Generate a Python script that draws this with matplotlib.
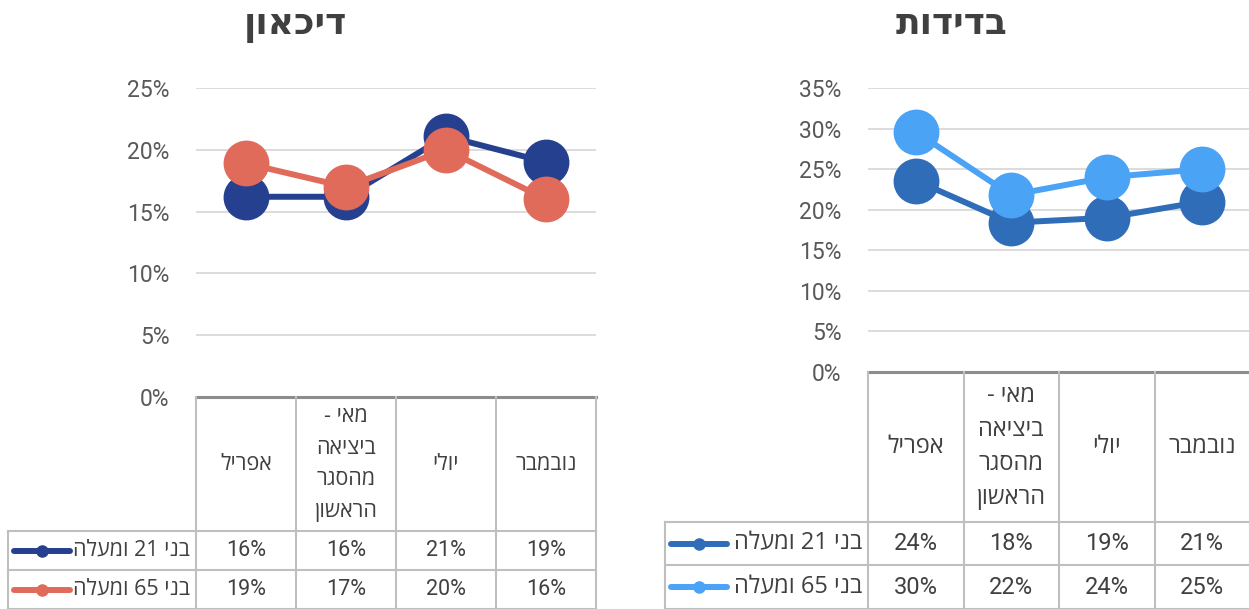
import matplotlib
matplotlib.use("Agg")
import matplotlib.pyplot as plt

W, H = 1249, 609

# ---------------- data ----------------
categories = ["אפריל", "מאי -\nביציאה\nמהסגר\nהראשון", "יולי", "נובמבר"]
series_names = ["בני 21 ומעלה", "בני 65 ומעלה"]
titles = ["דיכאון", "בדידות"]

depression_21 = [0.162, 0.162, 0.211, 0.190]
depression_65 = [0.189, 0.170, 0.200, 0.160]
loneliness_21 = [0.236, 0.184, 0.190, 0.210]
loneliness_65 = [0.296, 0.218, 0.240, 0.250]

dep_ticks = [0, 0.05, 0.10, 0.15, 0.20, 0.25]
lon_ticks = [0, 0.05, 0.10, 0.15, 0.20, 0.25, 0.30, 0.35]

plt.rcParams["font.family"] = ["Roboto", "Open Sans", "DejaVu Sans"]
TFONT = ["Open Sans", "DejaVu Sans"]

TXT = "#404040"
TICK = "#595959"
GRID = "#d9d9d9"
TBL = "#bfbfbf"


def vis(s):
    """Convert logical-order Hebrew to visual (LTR) order for rendering."""
    out = []
    for ln in s.split("\n"):
        words = ln.split(" ")
        rw = [w if any(c.isdigit() for c in w) else w[::-1] for w in words[::-1]]
        out.append(" ".join(rw))
    return "\n".join(out)


fig = plt.figure(figsize=(W / 100, H / 100), dpi=100)


def panel(lay, s1, s2, c1, c2, ticks, title):
    x0, x1, top, bot = lay["x0"], lay["x1"], lay["top"], lay["bot"]
    lx0, hb, r2 = lay["lx0"], lay["hb"], lay["r2"]
    fs, ls = lay["fs"], lay["ls"]
    ax = fig.add_axes([x0 / W, 1 - bot / H, (x1 - x0) / W, (bot - top) / H])
    xs = list(range(len(categories)))
    ax.set_xlim(-0.5, len(categories) - 0.5)
    ax.set_ylim(0, ticks[-1])
    for sp in ax.spines.values():
        sp.set_visible(False)
    ax.set_yticks(ticks)
    ax.set_yticklabels([f"{int(round(t*100))}%" for t in ticks])
    ax.tick_params(axis="y", length=0, pad=19, labelsize=16.5, labelcolor=TICK)
    ax.set_xticks([])
    for t in ticks[1:]:
        ax.axhline(t, color=GRID, lw=1.3, zorder=1)
    ax.axhline(0, color="#8c8c8c", lw=2.2, zorder=1, clip_on=False)
    ax.plot(xs, s1, color=c1, lw=4.3, marker="o", ms=32, zorder=3, clip_on=False)
    ax.plot(xs, s2, color=c2, lw=4.3, marker="o", ms=32, zorder=4, clip_on=False)

    # table axes (x in category units, y in pixels from top)
    ppu = (x1 - x0) / len(categories)
    xl = -0.5 - (x0 - lx0) / ppu
    tx = fig.add_axes([lx0 / W, 0, (x1 - lx0) / W, (H - bot) / H])
    tx.set_xlim(xl, len(categories) - 0.5)
    tx.set_ylim(H, bot)
    tx.axis("off")
    n = len(categories)
    for i in range(n + 1):
        tx.plot([i - 0.5, i - 0.5], [bot, H], color=TBL, lw=1.5, clip_on=False)
    tx.plot([xl, xl], [hb, H], color=TBL, lw=1.5, clip_on=False)
    for yy in (hb, r2, H - 0.5):
        tx.plot([xl, n - 0.5], [yy, yy], color=TBL, lw=1.5, clip_on=False)
    hc = (bot + hb) / 2
    for i, c in enumerate(categories):
        tx.text(i, hc, vis(c), ha="center", va="center", ma="center",
                fontsize=fs, color=TXT, linespacing=ls, family=TFONT)
    rows = [(s1, c1, (hb + r2) / 2, series_names[0]), (s2, c2, (r2 + H) / 2, series_names[1])]
    for vals, col, yc, name in rows:
        for i, v in enumerate(vals):
            tx.text(i, yc, f"{int(round(v*100))}%", ha="center", va="center",
                    fontsize=fs, color=TXT)
        tx.text(-0.5 - 6 / ppu, yc, vis(name), ha="right", va="center",
                fontsize=fs, color=TXT, family=TFONT)
        ka = xl + 6 / ppu
        kb = xl + 62 / ppu
        tx.plot([ka, kb], [yc, yc], color=col, lw=4.3, solid_capstyle="round", clip_on=False)
        tx.plot([(ka + kb) / 2], [yc], marker="o", ms=8, color=col, clip_on=False)

    fig.text(lay["tx"] / W, 1 - 25 / H, vis(title), ha="center", va="center",
             fontsize=26, fontweight="bold", color=TXT, family=TFONT)


left = dict(x0=196, x1=596, top=88, bot=397, lx0=8, hb=531, r2=570, tx=295, fs=15.5, ls=1.65)
right = dict(x0=868, x1=1250, top=88, bot=372, lx0=665, hb=522, r2=565, tx=952, fs=17, ls=1.57)

panel(left, depression_21, depression_65, "#25408F", "#E06B5B", dep_ticks, titles[0])
panel(right, loneliness_21, loneliness_65, "#2F6DB9", "#4BA3F6", lon_ticks, titles[1])

fig.savefig("out.png", dpi=100)
